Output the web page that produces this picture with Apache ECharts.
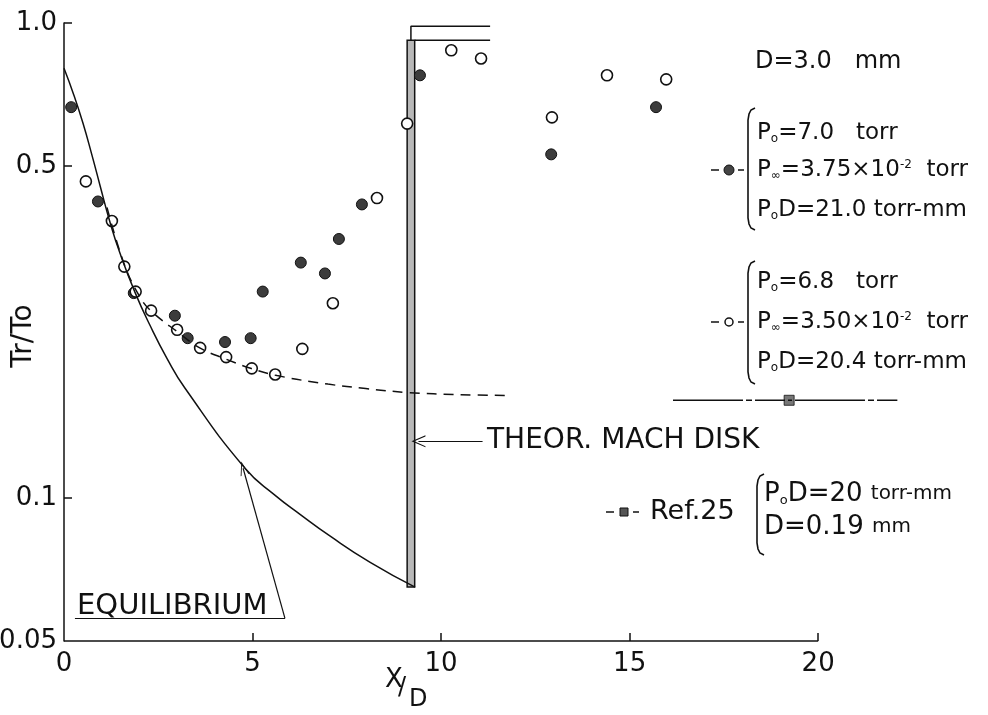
<!DOCTYPE html>
<html>
<head>
<meta charset="utf-8">
<script src="https://cdn.jsdelivr.net/npm/echarts@6/dist/echarts.min.js"></script>
<style>
html, body { margin: 0; padding: 0; background: #fff; }
#chart { width: 988px; height: 715px; }
</style>
</head>
<body>
<div id="chart"></div>
<script>
const FONT = "'DejaVu Sans', 'Liberation Sans', sans-serif";

// axis ticks
const xTickValues = [0, 5, 10, 15, 20];
const yTickValues = [0.05, 0.1, 0.5, 1];
const yTickLabels = ['0.05', '0.1', '0.5', '1.0'];

// P0 = 7.0 torr (filled circles)
const filledX = [0.19, 0.9, 1.85, 2.94, 3.28, 4.27, 4.95, 5.27, 6.28, 6.92, 7.29, 7.9, 9.44, 12.92, 15.7];
const filledY = [0.665, 0.421, 0.27, 0.242, 0.217, 0.213, 0.217, 0.272, 0.313, 0.297, 0.351, 0.415, 0.776, 0.529, 0.665];

// P0 = 6.8 torr (open circles)
const openX = [0.58, 1.27, 1.6, 1.9, 2.31, 3.0, 3.61, 4.3, 4.98, 5.6, 6.32, 7.13, 8.3, 9.1, 10.27, 11.06, 12.94, 14.4, 15.97];
const openY = [0.464, 0.383, 0.307, 0.272, 0.248, 0.226, 0.207, 0.198, 0.1875, 0.182, 0.206, 0.257, 0.428, 0.614, 0.876, 0.842, 0.633, 0.776, 0.761];

// equilibrium curve
const eqX = [0, 0.265, 0.504, 0.743, 0.955, 1.22, 1.485, 1.883, 2.28, 2.73, 3.21, 4.8, 5.6, 6.26, 7.06, 8.12, 9.31];
const eqY = [0.803, 0.704, 0.615, 0.5265, 0.455, 0.3805, 0.3274, 0.271, 0.231, 0.1968, 0.1702, 0.1155, 0.1013, 0.0924, 0.0831, 0.0732, 0.0649];

// dashed fit through open circles
const dashX = [1.14, 1.6, 2.0, 2.3, 3.0, 3.6, 4.3, 4.95, 5.65, 7.0, 8.0, 9.1, 10.5, 11.8];
const dashY = [0.409, 0.31, 0.266, 0.248, 0.224, 0.207, 0.196, 0.1875, 0.181, 0.1737, 0.170, 0.1668, 0.165, 0.1644];

// Ref.25
const refLineX = [16.15, 22.1];
const refX = [19.23];
const refY = [0.1606];

// theoretical Mach disk band and the two level lines above it
const machX = [9.1, 9.3];
const machY = [0.065, 0.92];
const levelX = [9.2, 11.3];
const levelY = [0.92, 0.984];

const zip = (xs, ys) => xs.map((x, i) => [x, ys[i]]);

const chart = echarts.init(document.getElementById('chart'));

const arrowHead = 'path://M0,12 L5,0 L10,12 L9,12 L5,2.5 L1,12 Z';

function brace(x, y1, y2) {
  return {
    type: 'polyline',
    shape: { points: [[x + 7, y1], [x + 3, y1 + 2], [x + 1, y1 + 6], [x, y1 + 12], [x, y2 - 12], [x + 1, y2 - 6], [x + 3, y2 - 2], [x + 7, y2]] },
    style: { stroke: '#111', lineWidth: 1.6, fill: null }
  };
}

function txt(x, y, text, size, extra) {
  return Object.assign({
    type: 'text', x: x, y: y,
    style: {
      text: text, font: size + 'px ' + FONT, fill: '#111',
      textVerticalAlign: 'middle',
      rich: {
        p: { fontSize: size, fontFamily: FONT, fill: '#111' },
        s: { fontSize: Math.round(size * 0.5), fontFamily: FONT, verticalAlign: 'bottom' },
        u: { fontSize: Math.round(size * 0.5), fontFamily: FONT, verticalAlign: 'top' },
        sm: { fontSize: Math.round(size * 0.75), fontFamily: FONT }
      }
    }
  }, extra || {});
}

function legendMark(cx, cy, kind) {
  const els = [
    { type: 'line', shape: { x1: cx - 18, y1: cy, x2: cx - 10, y2: cy }, style: { stroke: '#111', lineWidth: 1.5 } },
    { type: 'line', shape: { x1: cx + 9, y1: cy, x2: cx + 15, y2: cy }, style: { stroke: '#111', lineWidth: 1.5 } }
  ];
  if (kind === 'filled') els.push({ type: 'circle', shape: { cx: cx, cy: cy, r: 5 }, style: { fill: '#444', stroke: '#111', lineWidth: 1 } });
  if (kind === 'open') els.push({ type: 'circle', shape: { cx: cx, cy: cy, r: 4 }, style: { fill: '#fff', stroke: '#111', lineWidth: 1.5 } });
  if (kind === 'square') els.push({ type: 'rect', shape: { x: cx - 4, y: cy - 4, width: 8, height: 8 }, style: { fill: '#555', stroke: '#111', lineWidth: 1 } });
  return els;
}

const yTitle = txt(24, 336, 'Tr/To', 28, { rotation: Math.PI / 2 });
yTitle.style.textAlign = 'center';

const option = {
  backgroundColor: '#fff',
  animation: false,
  grid: { left: 64, right: 19, top: 23, bottom: 74, outerBoundsMode: 'none', containLabel: false },
  xAxis: {
    type: 'value', min: 0, max: 24,
    axisLine: { show: false },
    axisTick: { show: true, inside: true, length: 8, customValues: [5, 10, 15, 20], lineStyle: { color: '#111', width: 1.5 } },
    axisLabel: { customValues: xTickValues, margin: 10, fontSize: 26, fontFamily: FONT, color: '#111' },
    splitLine: { show: false }
  },
  yAxis: {
    type: 'log', logBase: 10, min: 0.05, max: 1,
    axisLine: { show: true, lineStyle: { color: '#111', width: 1.5 } },
    axisTick: { show: true, inside: true, length: 8, customValues: [0.1, 0.5, 1], lineStyle: { color: '#111', width: 1.5 } },
    axisLabel: {
      customValues: yTickValues, margin: 7, fontSize: 26, fontFamily: FONT, color: '#111',
      formatter: v => {
        const i = yTickValues.findIndex(t => Math.abs(t - v) / t < 1e-6);
        return i >= 0 ? yTickLabels[i] : '';
      }
    },
    splitLine: { show: false }
  },
  series: [
    {
      name: 'x axis', type: 'line', clip: false, symbol: 'none', silent: true,
      data: [[xTickValues[0], yTickValues[0]], [xTickValues[xTickValues.length - 1], yTickValues[0]]],
      lineStyle: { color: '#111', width: 1.5 }
    },
    {
      name: 'equilibrium', type: 'line', smooth: 0.5, symbol: 'none', silent: true,
      data: zip(eqX, eqY),
      lineStyle: { color: '#111', width: 1.5 },
      markLine: {
        silent: true, animation: false,
        label: { show: false },
        lineStyle: { color: '#111', width: 1.2, type: 'solid' },
        symbol: ['none', 'none'],
        data: [
          // EQUILIBRIUM underline and pointer
          [{ coord: [0.29, 0.0558] }, { coord: [5.86, 0.0558] }],
          [{ coord: [5.86, 0.0558], symbol: 'none' }, { coord: [4.75, 0.1155], symbol: arrowHead, symbolSize: [9, 14] }],
          // Mach disk pointer
          [{ coord: [11.1, 0.1316], symbol: 'none' }, { coord: [9.4, 0.1316], symbol: arrowHead, symbolSize: [12, 14] }]
        ]
      }
    },
    {
      name: 'fit', type: 'line', smooth: 0.4, symbol: 'none', silent: true,
      data: zip(dashX, dashY),
      lineStyle: { color: '#111', width: 1.5, type: [10, 7] }
    },
    {
      name: 'Mach disk', type: 'line', symbol: 'none', silent: true,
      data: zip(machX, [machY[0], machY[0]]),
      lineStyle: { width: 0 },
      markArea: {
        silent: true,
        itemStyle: { color: '#b8b8b8', borderColor: '#111', borderWidth: 1.5 },
        data: [[{ coord: [machX[0], machY[0]] }, { coord: [machX[1], machY[1]] }]]
      }
    },
    {
      name: 'level 1', type: 'line', symbol: 'none', silent: true,
      data: [[machX[1], levelY[0]], [levelX[1], levelY[0]]],
      lineStyle: { color: '#111', width: 1.5 }
    },
    {
      name: 'level 2', type: 'line', symbol: 'none', silent: true,
      data: [[levelX[0], machY[1]], [levelX[0], levelY[1]], [levelX[1], levelY[1]]],
      lineStyle: { color: '#111', width: 1.5 }
    },
    {
      name: 'Ref.25 line', type: 'line', symbol: 'none', silent: true,
      data: zip(refLineX, [refY[0], refY[0]]),
      lineStyle: { color: '#111', width: 1.5, type: [70, 3, 6, 3, 30, 3, 4, 3] }
    },
    {
      name: 'Ref.25', type: 'scatter', symbol: 'rect', symbolSize: 10,
      data: zip(refX, refY),
      itemStyle: { color: '#555', borderColor: '#111', borderWidth: 1 }
    },
    {
      name: 'P0=7.0', type: 'scatter', symbol: 'circle', symbolSize: 11,
      data: zip(filledX, filledY),
      itemStyle: { color: '#3c3c3c', borderColor: '#111', borderWidth: 1, opacity: 1 }
    },
    {
      name: 'P0=6.8', type: 'scatter', symbol: 'circle', symbolSize: 11,
      data: zip(openX, openY),
      itemStyle: { color: '#fff', borderColor: '#111', borderWidth: 1.6, opacity: 1 }
    }
  ],
  graphic: [
    // axis titles
    yTitle,
    txt(385, 680, 'X', 26),
    txt(398, 688, '/', 24),
    txt(409, 700, 'D', 24),
    // annotations
    txt(77, 606, 'EQUILIBRIUM', 29),
    txt(487, 441, 'THEOR. MACH DISK', 28),
    txt(755, 62, 'D=3.0   mm', 24),
    // block 1
    brace(748, 108, 230),
    txt(757, 133, '{p|P}{s|o}=7.0   torr', 23),
    txt(757, 170, '{p|P}{s|∞}=3.75×10{u|-2}  torr', 23),
    txt(757, 210, '{p|P}{s|o}D=21.0 torr-mm', 23),
    ...legendMark(729, 170, 'filled'),
    // block 2
    brace(748, 261, 384),
    txt(757, 282, '{p|P}{s|o}=6.8   torr', 23),
    txt(757, 322, '{p|P}{s|∞}=3.50×10{u|-2}  torr', 23),
    txt(757, 362, '{p|P}{s|o}D=20.4 torr-mm', 23),
    ...legendMark(729, 322, 'open'),
    // block 3
    ...legendMark(624, 512, 'square'),
    txt(650, 512, 'Ref.25', 27),
    brace(757, 474, 555),
    txt(764, 494, '{p|P}{s|o}D=20 {sm|torr-mm}', 26),
    txt(764, 527, 'D=0.19 {sm|mm}', 26)
  ]
};

chart.setOption(option);
</script>
</body>
</html>
